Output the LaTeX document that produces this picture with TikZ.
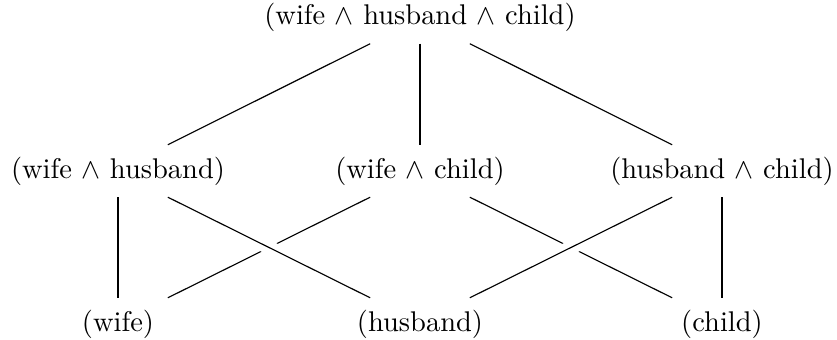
\documentclass[tikz,border=0pt]{standalone}
\usepackage{amsmath,amssymb}
\usetikzlibrary{calc}
\tikzset{
  setnode/.style={inner xsep=2pt,inner ysep=4pt,text height=7.5pt,text depth=2.5pt},
  edge/.style={line width=0.4pt,draw=black},
  over/.style={edge,preaction={draw=white,line width=5pt}}
}
\begin{document}
\begin{tikzpicture}[x=0.351pt,y=-0.351pt]
  \useasboundingbox (0,0) rectangle (837,340);
  \node[setnode] (whc) at (420,17.5) {(wife $\land$ husband $\land$ child)};
  \node[setnode] (wh) at (118,171) {(wife $\land$ husband)};
  \node[setnode] (wc) at (420,171) {(wife $\land$ child)};
  \node[setnode] (hc) at (722,171) {(husband $\land$ child)};
  \node[setnode] (w) at (118,324) {(wife)};
  \node[setnode] (h) at (420,324) {(husband)};
  \node[setnode] (c) at (722,324) {(child)};
  % top level
  \draw[edge] ([xshift=-17.5pt]whc.south) -- ([xshift=17.5pt]wh.north);
  \draw[edge] (whc.south) -- (wc.north);
  \draw[edge] ([xshift=17.5pt]whc.south) -- ([xshift=-17.5pt]hc.north);
  % lower level
  \draw[edge] (wh.south) -- (w.north);
  \draw[edge] ([xshift=-17.5pt]wc.south) -- ([xshift=17.5pt]w.north);
  \draw[edge] ([xshift=17.5pt]wc.south) -- ([xshift=-17.5pt]c.north);
  \draw[edge] (hc.south) -- (c.north);
  \draw[over] ([xshift=17.5pt]wh.south) -- ([xshift=-17.5pt]h.north);
  \draw[over] ([xshift=-17.5pt]hc.south) -- ([xshift=17.5pt]h.north);
\end{tikzpicture}
\end{document}
